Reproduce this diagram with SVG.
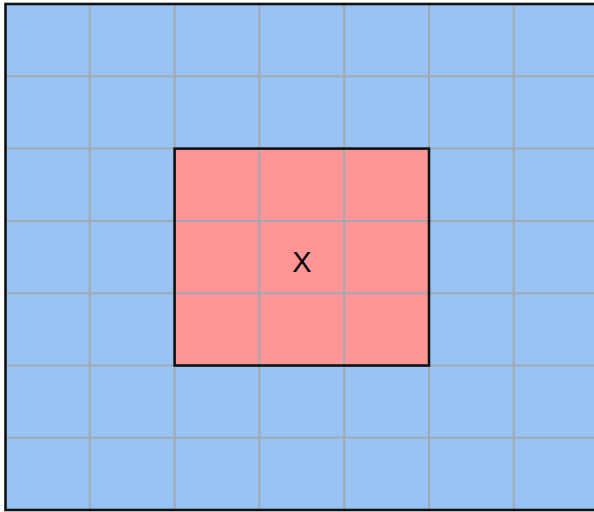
<svg xmlns="http://www.w3.org/2000/svg" width="594" height="512" viewBox="0 0 594 512">
<style>
.grid{stroke:#a3a9b0;stroke-width:2;fill:none}
.border{fill:none;stroke:#111;stroke-width:2.6}
.lbl{font-family:"Liberation Sans",Arial,sans-serif;font-size:29px;fill:#000;text-anchor:middle}
</style>
<rect width="594" height="512" fill="#ffffff"/>
<g id="background">
<rect x="5" y="4" width="594" height="506" fill="#9ac3f5"/>
</g>
<g id="region-x">
<rect x="174.6" y="148.6" width="254.4" height="216.9" fill="#fe9698"/>
</g>
<g id="grid">
<path class="grid" d="M89.8 4V510M174.6 4V510M259.4 4V510M344.2 4V510M429 4V510M513.8 4V510M5 76.3H594M5 148.6H594M5 220.9H594M5 293.2H594M5 365.5H594M5 437.8H594"/>
</g>
<g id="borders">
<rect class="border" x="5.5" y="4" width="600" height="506"/>
<rect class="border" x="174.6" y="148.6" width="254.4" height="216.9"/>
</g>
<g id="label">
<text class="lbl" x="302" y="272">X</text>
</g>
</svg>
